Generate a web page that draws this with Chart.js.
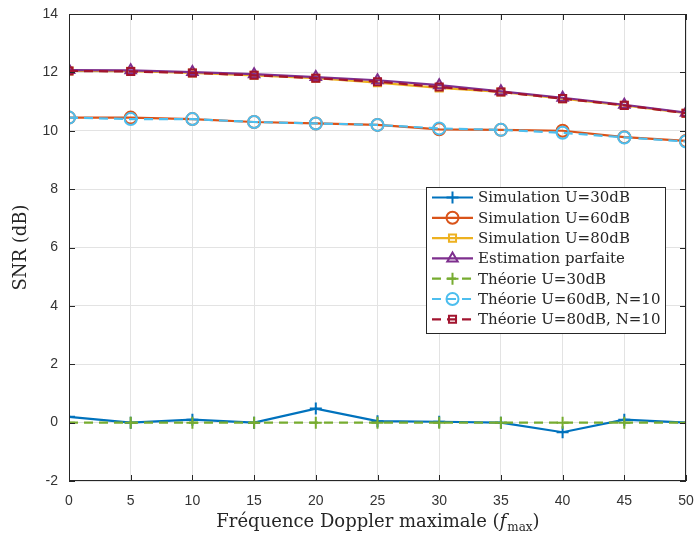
<!DOCTYPE html>
<html lang="fr">
<head>
  <meta charset="UTF-8">
  <title>SNR vs Fréquence Doppler</title>
  <script src="https://cdn.jsdelivr.net/npm/chart.js"></script>
  <style>
    html, body { margin: 0; padding: 0; background: #fff; }
    #wrap { width: 697px; height: 534px; }
  </style>
</head>
<body>
  <div id="wrap"><canvas id="snrChart" width="697" height="534"></canvas></div>

  <script>
    // données
    const fmax = [0, 5, 10, 15, 20, 25, 30, 35, 40, 45, 50];
    const simU30 = [0.2, 0.0, 0.1, 0.0, 0.48, 0.05, 0.03, 0.0, -0.33, 0.1, 0.0];
    const simU60 = [10.45, 10.45, 10.4, 10.3, 10.25, 10.2, 10.05, 10.03, 10.0, 9.78, 9.65];
    const simU80 = [12.05, 12.04, 11.98, 11.9, 11.8, 11.65, 11.47, 11.33, 11.1, 10.87, 10.6];
    const estParfaite = [12.08, 12.07, 12.01, 11.94, 11.84, 11.73, 11.56, 11.35, 11.13, 10.89, 10.62];
    const theoU30 = [0, 0, 0, 0, 0, 0, 0, 0, 0, 0, 0];
    const theoU60 = [10.45, 10.4, 10.4, 10.3, 10.25, 10.2, 10.08, 10.03, 9.93, 9.77, 9.63];
    const theoU80 = [12.05, 12.03, 11.98, 11.9, 11.8, 11.68, 11.5, 11.33, 11.1, 10.87, 10.6];
    const yTicks = [-2, 0, 2, 4, 6, 8, 10, 12, 14];

    const labels = ['Simulation U=30dB', 'Simulation U=60dB', 'Simulation U=80dB', 'Estimation parfaite',
                    'Théorie U=30dB', 'Théorie U=60dB, N=10', 'Théorie U=80dB, N=10'];
    const series = [simU30, simU60, simU80, estParfaite, theoU30, theoU60, theoU80];
    const colors = ['#0072BD', '#D95319', '#EDB120', '#7E2F8E', '#77AC30', '#4DBEEE', '#A2142F'];
    const markers = ['cross', 'circle', 'rect', 'triangle', 'cross', 'circle', 'rect'];
    const dashed = [false, false, false, false, true, true, true];
    const radii = [6, 6, 5, 6, 6, 6, 5];

    const PLOT = { left: 69, right: 686, top: 14, bottom: 481 };
    const SERIF = '"DejaVu Serif", "Liberation Serif", serif';
    const SANS = '"Liberation Sans", Arial, sans-serif';

    const datasets = series.map((vals, i) => ({
      label: labels[i],
      data: fmax.map((x, k) => ({ x: x, y: vals[k] })),
      borderColor: colors[i],
      backgroundColor: 'rgba(0,0,0,0)',
      borderWidth: 2.2,
      borderDash: dashed[i] ? [9, 6] : [],
      pointStyle: markers[i],
      pointRadius: radii[i],
      pointBorderWidth: 2,
      pointBorderColor: colors[i],
      pointBackgroundColor: 'rgba(0,0,0,0)',
      tension: 0,
      order: 10 - i
    }));

    // cadre, graduations intérieures, titres et légende à la MATLAB
    const matlabLook = {
      id: 'matlabLook',
      afterDraw(chart) {
        const ctx = chart.ctx;
        const a = chart.chartArea;
        const xs = chart.scales.x, ys = chart.scales.y;
        ctx.save();
        ctx.strokeStyle = '#262626';
        ctx.lineWidth = 1;
        ctx.strokeRect(a.left + 0.5, a.top + 0.5, a.right - a.left - 1, a.bottom - a.top - 1);
        ctx.beginPath();
        fmax.forEach(v => {
          const px = Math.round(xs.getPixelForValue(v)) + 0.5;
          ctx.moveTo(px, a.bottom); ctx.lineTo(px, a.bottom - 6);
          ctx.moveTo(px, a.top); ctx.lineTo(px, a.top + 6);
        });
        yTicks.forEach(v => {
          const py = Math.round(ys.getPixelForValue(v)) + 0.5;
          ctx.moveTo(a.left, py); ctx.lineTo(a.left + 6, py);
          ctx.moveTo(a.right, py); ctx.lineTo(a.right - 6, py);
        });
        ctx.stroke();

        // titre de l'axe y
        ctx.fillStyle = '#262626';
        ctx.font = '18px ' + SERIF;
        ctx.textAlign = 'center';
        ctx.textBaseline = 'middle';
        ctx.save();
        ctx.translate(21, (a.top + a.bottom) / 2);
        ctx.rotate(-Math.PI / 2);
        ctx.fillText('SNR (dB)', 0, 0);
        ctx.restore();

        // titre de l'axe x avec f_max
        const parts = [
          { t: 'Fréquence Doppler maximale (', f: '18px ' + SERIF, dy: 0 },
          { t: 'f', f: 'italic 18px ' + SERIF, dy: 0 },
          { t: 'max', f: '12px ' + SERIF, dy: 4 },
          { t: ')', f: '18px ' + SERIF, dy: 0 }
        ];
        let total = 0;
        parts.forEach(p => { ctx.font = p.f; p.w = ctx.measureText(p.t).width; total += p.w; });
        let x0 = (a.left + a.right) / 2 - total / 2;
        ctx.textAlign = 'left';
        ctx.textBaseline = 'alphabetic';
        parts.forEach(p => {
          ctx.font = p.f;
          ctx.fillText(p.t, x0, 527 + p.dy);
          x0 += p.w + (p.t === 'f' ? 1 : 0);
        });

        // légende
        const lx = 426, ly = 187, lw = 239, lh = 146;
        ctx.fillStyle = '#fff';
        ctx.fillRect(lx, ly, lw, lh);
        ctx.strokeStyle = '#262626';
        ctx.strokeRect(lx + 0.5, ly + 0.5, lw, lh);
        chart.data.datasets.forEach((ds, i) => {
          const cy = 197.5 + i * 20.3;
          ctx.strokeStyle = ds.borderColor;
          ctx.lineWidth = 2.2;
          ctx.setLineDash(ds.borderDash);
          ctx.beginPath();
          ctx.moveTo(432, cy); ctx.lineTo(473, cy);
          ctx.stroke();
          ctx.setLineDash([]);
          ctx.lineWidth = 2;
          ctx.fillStyle = 'rgba(0,0,0,0)';
          Chart.helpers.drawPoint(ctx, {
            pointStyle: ds.pointStyle, radius: ds.pointRadius, borderWidth: 2
          }, 452.5, cy);
          ctx.fillStyle = '#262626';
          ctx.font = '15px ' + SERIF;
          ctx.textBaseline = 'middle';
          ctx.fillText(ds.label, 478, cy + 1);
        });
        ctx.restore();
      }
    };

    new Chart(document.getElementById('snrChart'), {
      type: 'line',
      data: { datasets: datasets },
      plugins: [matlabLook],
      options: {
        responsive: false,
        animation: false,
        layout: { padding: { left: 0, right: 697 - PLOT.right, top: PLOT.top, bottom: 0 } },
        plugins: { legend: { display: false }, tooltip: { enabled: false } },
        scales: {
          x: {
            type: 'linear', min: 0, max: 50,
            afterFit(s) { s.height = 534 - PLOT.bottom; s.paddingLeft = 0; s.paddingRight = 0; },
            afterBuildTicks(s) { s.ticks = fmax.map(v => ({ value: v })); },
            grid: { color: '#e3e3e3', drawTicks: false },
            border: { display: false },
            ticks: { color: '#333333', font: { family: SANS, size: 14 }, padding: 12, maxRotation: 0 }
          },
          y: {
            min: -2, max: 14,
            afterFit(s) { s.width = PLOT.left; s.paddingTop = 0; s.paddingBottom = 0; },
            afterBuildTicks(s) { s.ticks = yTicks.map(v => ({ value: v })); },
            grid: { color: '#e3e3e3', drawTicks: false },
            border: { display: false },
            ticks: { color: '#333333', font: { family: SANS, size: 14 }, padding: 11 }
          }
        }
      }
    });
  </script>
</body>
</html>
